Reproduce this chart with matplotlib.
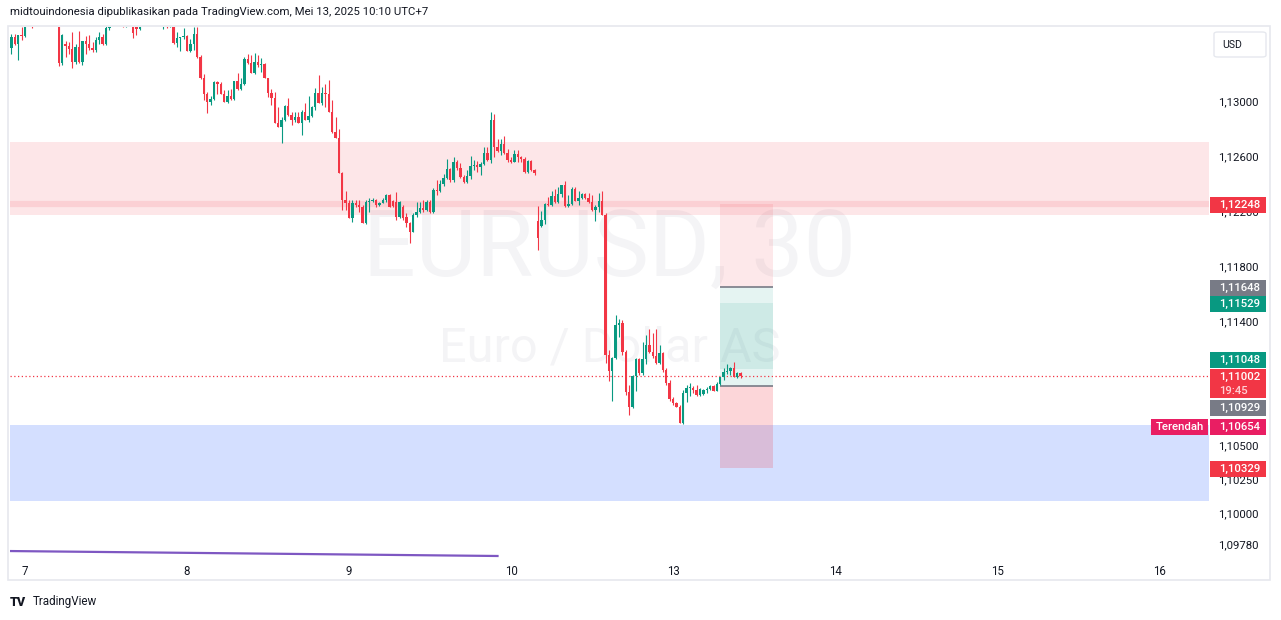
import matplotlib
matplotlib.use("Agg")
import matplotlib.pyplot as plt
from matplotlib.patches import Rectangle, FancyBboxPatch
import numpy as np

plt.rcParams['font.family'] = ['Roboto', 'DejaVu Sans']

W, H = 1281, 620

# EURUSD 30m candles (open, high, low, close), UTC+7
may06 = [
    (1.13385, 1.13487, 1.13342, 1.13465), (1.13465, 1.13487, 1.13407, 1.13414),
    (1.13414, 1.13480, 1.13298, 1.13480), (1.13480, 1.13538, 1.13443, 1.13473),
]
may07 = [
    (1.13473, 1.13589, 1.13465, 1.13553), (1.13553, 1.13630, 1.13545, 1.13574),
    (1.13574, 1.13620, 1.13531, 1.13553), (1.13553, 1.13640, 1.13545, 1.13610),
    (1.13610, 1.13680, 1.13590, 1.13650), (1.13650, 1.13720, 1.13620, 1.13690),
    (1.13690, 1.13740, 1.13630, 1.13660), (1.13660, 1.13700, 1.13580, 1.13620),
    (1.13620, 1.13660, 1.13550, 1.13580), (1.13580, 1.13630, 1.13545, 1.13600),
    (1.13600, 1.13640, 1.13254, 1.13276), (1.13276, 1.13485, 1.13262, 1.13480),
    (1.13414, 1.13436, 1.13320, 1.13400), (1.13400, 1.13429, 1.13342, 1.13378),
    (1.13378, 1.13502, 1.13240, 1.13284), (1.13284, 1.13414, 1.13269, 1.13393),
    (1.13393, 1.13509, 1.13276, 1.13284), (1.13284, 1.13436, 1.13262, 1.13436),
    (1.13436, 1.13473, 1.13342, 1.13414), (1.13414, 1.13480, 1.13371, 1.13385),
    (1.13385, 1.13429, 1.13356, 1.13371), (1.13371, 1.13465, 1.13356, 1.13443),
    (1.13443, 1.13502, 1.13414, 1.13465), (1.13465, 1.13487, 1.13407, 1.13414),
    (1.13414, 1.13574, 1.13407, 1.13531), (1.13531, 1.13620, 1.13516, 1.13580),
    (1.13580, 1.13660, 1.13560, 1.13640), (1.13640, 1.13690, 1.13600, 1.13630),
    (1.13630, 1.13670, 1.13560, 1.13580), (1.13580, 1.13620, 1.13535, 1.13570),
    (1.13570, 1.13630, 1.13535, 1.13610), (1.13610, 1.13660, 1.13570, 1.13620),
    (1.13620, 1.13650, 1.13458, 1.13494), (1.13545, 1.13600, 1.13480, 1.13524),
    (1.13524, 1.13620, 1.13520, 1.13600), (1.13600, 1.13680, 1.13580, 1.13660),
    (1.13660, 1.13720, 1.13620, 1.13640), (1.13640, 1.13700, 1.13600, 1.13680),
    (1.13680, 1.13740, 1.13640, 1.13710), (1.13710, 1.13760, 1.13650, 1.13670),
    (1.13670, 1.13700, 1.13560, 1.13560), (1.13560, 1.13650, 1.13524, 1.13620),
    (1.13620, 1.13660, 1.13531, 1.13580), (1.13580, 1.13630, 1.13540, 1.13600),
    (1.13600, 1.13640, 1.13414, 1.13422), (1.13422, 1.13502, 1.13393, 1.13458),
    (1.13458, 1.13465, 1.13364, 1.13462), (1.13462, 1.13531, 1.13451, 1.13473),
]
may08 = [
    (1.13473, 1.13480, 1.13364, 1.13364), (1.13364, 1.13451, 1.13356, 1.13414),
    (1.13414, 1.13538, 1.13371, 1.13487), (1.13487, 1.13538, 1.13313, 1.13320),
    (1.13320, 1.13334, 1.13160, 1.13167), (1.13167, 1.13196, 1.13007, 1.13054),
    (1.13054, 1.13065, 1.12915, 1.12993), (1.12993, 1.13036, 1.12971, 1.13017),
    (1.13017, 1.13145, 1.13010, 1.13135), (1.13135, 1.13142, 1.13051, 1.13127),
    (1.13127, 1.13138, 1.13051, 1.13054), (1.13054, 1.13080, 1.12990, 1.12993),
    (1.12993, 1.13078, 1.12985, 1.13040), (1.13040, 1.13090, 1.13010, 1.13017),
    (1.13017, 1.13145, 1.13010, 1.13145), (1.13145, 1.13204, 1.13078, 1.13090),
    (1.13090, 1.13167, 1.13078, 1.13127), (1.13127, 1.13320, 1.13114, 1.13309),
    (1.13309, 1.13344, 1.13269, 1.13278), (1.13278, 1.13334, 1.13206, 1.13206),
    (1.13206, 1.13351, 1.13200, 1.13284), (1.13284, 1.13331, 1.13247, 1.13262),
    (1.13262, 1.13313, 1.13214, 1.13269), (1.13269, 1.13276, 1.13165, 1.13165),
    (1.13165, 1.13167, 1.13031, 1.13056), (1.13056, 1.13085, 1.12971, 1.13024),
    (1.13024, 1.13068, 1.12842, 1.12842), (1.12842, 1.12959, 1.12809, 1.12813),
    (1.12813, 1.12886, 1.12697, 1.12862), (1.12862, 1.12971, 1.12855, 1.12964),
    (1.12964, 1.13020, 1.12891, 1.12898), (1.12898, 1.12922, 1.12825, 1.12862),
    (1.12862, 1.12922, 1.12849, 1.12882), (1.12882, 1.12922, 1.12838, 1.12838),
    (1.12838, 1.12935, 1.12753, 1.12922), (1.12922, 1.12983, 1.12862, 1.12862),
    (1.12862, 1.13036, 1.12849, 1.12891), (1.12891, 1.12964, 1.12884, 1.12954),
    (1.12954, 1.13092, 1.12935, 1.13060), (1.13060, 1.13189, 1.12983, 1.12983),
    (1.12983, 1.13104, 1.12971, 1.13060), (1.13060, 1.13124, 1.12959, 1.13051),
    (1.13051, 1.13153, 1.12922, 1.12922), (1.12922, 1.13007, 1.12765, 1.12777),
    (1.12777, 1.12886, 1.12729, 1.12731), (1.12731, 1.12794, 1.12474, 1.12474),
    (1.12474, 1.12487, 1.12207, 1.12280), (1.12280, 1.12345, 1.12207, 1.12258),
]
may09 = [
    (1.12258, 1.12280, 1.12149, 1.12151), (1.12151, 1.12280, 1.12122, 1.12258),
    (1.12258, 1.12280, 1.12232, 1.12244), (1.12244, 1.12280, 1.12196, 1.12232),
    (1.12232, 1.12244, 1.12115, 1.12115), (1.12115, 1.12280, 1.12108, 1.12266),
    (1.12266, 1.12293, 1.12196, 1.12276), (1.12276, 1.12295, 1.12262, 1.12282),
    (1.12282, 1.12287, 1.12232, 1.12242), (1.12242, 1.12262, 1.12236, 1.12260),
    (1.12260, 1.12295, 1.12255, 1.12280), (1.12280, 1.12324, 1.12265, 1.12316),
    (1.12316, 1.12324, 1.12227, 1.12232), (1.12270, 1.12280, 1.12227, 1.12238),
    (1.12265, 1.12338, 1.12135, 1.12160), (1.12160, 1.12273, 1.12149, 1.12265),
    (1.12229, 1.12244, 1.12135, 1.12149), (1.12160, 1.12185, 1.12087, 1.12111),
    (1.12111, 1.12122, 1.11965, 1.12049), (1.12049, 1.12185, 1.12049, 1.12171),
    (1.12171, 1.12268, 1.12160, 1.12195), (1.12195, 1.12268, 1.12185, 1.12220),
    (1.12220, 1.12280, 1.12195, 1.12207), (1.12207, 1.12280, 1.12200, 1.12268),
    (1.12268, 1.12280, 1.12188, 1.12195), (1.12195, 1.12367, 1.12185, 1.12353),
    (1.12353, 1.12425, 1.12316, 1.12345), (1.12345, 1.12425, 1.12340, 1.12396),
    (1.12396, 1.12469, 1.12382, 1.12440), (1.12440, 1.12578, 1.12433, 1.12505),
    (1.12505, 1.12513, 1.12413, 1.12425), (1.12425, 1.12590, 1.12413, 1.12560),
    (1.12560, 1.12571, 1.12498, 1.12511), (1.12511, 1.12547, 1.12440, 1.12447),
    (1.12447, 1.12462, 1.12406, 1.12413), (1.12413, 1.12498, 1.12406, 1.12455),
    (1.12455, 1.12600, 1.12433, 1.12527), (1.12527, 1.12571, 1.12498, 1.12535),
    (1.12535, 1.12564, 1.12486, 1.12522), (1.12522, 1.12560, 1.12462, 1.12542),
    (1.12542, 1.12667, 1.12533, 1.12624), (1.12624, 1.12667, 1.12566, 1.12571),
    (1.12571, 1.12922, 1.12551, 1.12862), (1.12862, 1.12905, 1.12595, 1.12667),
    (1.12667, 1.12722, 1.12631, 1.12638), (1.12638, 1.12722, 1.12607, 1.12687),
    (1.12687, 1.12745, 1.12615, 1.12620), (1.12620, 1.12649, 1.12559, 1.12571),
]
may10 = [
    (1.12571, 1.12595, 1.12547, 1.12559), (1.12559, 1.12644, 1.12559, 1.12615),
    (1.12615, 1.12644, 1.12559, 1.12591), (1.12591, 1.12600, 1.12556, 1.12576),
    (1.12576, 1.12595, 1.12480, 1.12487), (1.12487, 1.12571, 1.12480, 1.12564),
    (1.12564, 1.12571, 1.12493, 1.12498), (1.12498, 1.12505, 1.12462, 1.12474),
]
may12 = [
    (1.12127, 1.12233, 1.11916, 1.12004), (1.12091, 1.12200, 1.12084, 1.12135),
    (1.12135, 1.12256, 1.12105, 1.12251), (1.12251, 1.12302, 1.12240, 1.12246),
    (1.12246, 1.12345, 1.12240, 1.12309), (1.12309, 1.12363, 1.12256, 1.12262),
    (1.12262, 1.12378, 1.12256, 1.12324), (1.12324, 1.12389, 1.12304, 1.12389),
    (1.12389, 1.12418, 1.12227, 1.12236), (1.12236, 1.12316, 1.12227, 1.12254),
    (1.12254, 1.12375, 1.12244, 1.12358), (1.12358, 1.12375, 1.12273, 1.12275),
    (1.12275, 1.12342, 1.12244, 1.12293), (1.12293, 1.12333, 1.12285, 1.12324),
    (1.12324, 1.12331, 1.12285, 1.12293), (1.12293, 1.12328, 1.12256, 1.12262),
    (1.12262, 1.12316, 1.12202, 1.12207), (1.12207, 1.12244, 1.12127, 1.12227),
    (1.12227, 1.12331, 1.12195, 1.12275), (1.12275, 1.12345, 1.12171, 1.12171),
    (1.12171, 1.12185, 1.11095, 1.11153), (1.11153, 1.11189, 1.10967, 1.11039),
    (1.11039, 1.11138, 1.10815, 1.11131), (1.11131, 1.11444, 1.11124, 1.11371),
    (1.11371, 1.11413, 1.11284, 1.11389), (1.11389, 1.11407, 1.11153, 1.11171),
    (1.11171, 1.11189, 1.10862, 1.10886), (1.10886, 1.10935, 1.10716, 1.10776),
    (1.10776, 1.11007, 1.10765, 1.11000), (1.11000, 1.11131, 1.10893, 1.11121),
    (1.11121, 1.11131, 1.11007, 1.11020), (1.11020, 1.11250, 1.11007, 1.11121),
    (1.11121, 1.11298, 1.11087, 1.11225), (1.11225, 1.11342, 1.11165, 1.11177),
    (1.11177, 1.11313, 1.11129, 1.11145), (1.11145, 1.11342, 1.11087, 1.11095),
    (1.11095, 1.11225, 1.11087, 1.11169), (1.11169, 1.11177, 1.11031, 1.11044),
    (1.11044, 1.11058, 1.10935, 1.10947), (1.10947, 1.10971, 1.10818, 1.10831),
]
may13 = [
    (1.10831, 1.10847, 1.10789, 1.10802), (1.10802, 1.10813, 1.10773, 1.10777),
    (1.10777, 1.10789, 1.10660, 1.10660), (1.10660, 1.10898, 1.10654, 1.10878),
    (1.10878, 1.10935, 1.10813, 1.10911), (1.10911, 1.10949, 1.10851, 1.10914),
    (1.10914, 1.10927, 1.10880, 1.10898), (1.10898, 1.10935, 1.10851, 1.10862),
    (1.10862, 1.10913, 1.10855, 1.10905), (1.10869, 1.10905, 1.10862, 1.10898),
    (1.10898, 1.10920, 1.10876, 1.10905), (1.10905, 1.10935, 1.10898, 1.10927),
    (1.10927, 1.10935, 1.10889, 1.10893), (1.10893, 1.10953, 1.10891, 1.10942),
    (1.10942, 1.10995, 1.10935, 1.10990), (1.10990, 1.11058, 1.10971, 1.11031),
    (1.11031, 1.11087, 1.11015, 1.11035), (1.11035, 1.11069, 1.11007, 1.11058),
    (1.11058, 1.11102, 1.10993, 1.10995), (1.10995, 1.11031, 1.10985, 1.11022),
    (1.11022, 1.11029, 1.10985, 1.11002),
]
first_idx = -4

day_ticks = [0, 48, 96, 144, 192, 240, 288, 336]
day_labels = ["7", "8", "9", "10", "13", "14", "15", "16"]
price_ticks = [1.13, 1.126, 1.122, 1.118, 1.114, 1.105, 1.1025, 1.10, 1.0978]

supply_zone = (1.12171, 1.12702)
supply_line = 1.12248
demand_zone = (1.10091, 1.10644)

short_pos = {"entry": 1.11648, "stop": 1.12248, "target": 1.11048}
long_pos = {"entry": 1.10929, "stop": 1.10329, "target": 1.11529}
pos_span = (205.9, 221.6)

last_price = 1.11002
countdown = "19:45"
session_low = 1.10654

trend_idx = [-4.5, 140]
trend_price = [1.09727, 1.09691]

UP = "#089981"
DOWN = "#F23645"
GRAY = "#787B86"
TEXT = "#131722"

candles = np.array(may06 + may07 + may08 + may09 + may10 + may12 + may13)
idx = np.arange(len(candles)) + first_idx
o, h, l, c = candles.T
colors = np.where(c >= o, UP, DOWN)

fig = plt.figure(figsize=(W / 100, H / 100), dpi=100)
fig.patch.set_facecolor("white")
ax = fig.add_axes([10 / W, 1 - 558 / H, 1199 / W, 531 / H])
ax.set_xlim(-4.444, 350.8)
ax.set_ylim(1.096764, 1.135382)
for s in ax.spines.values():
    s.set_visible(False)

# watermark
ax.text(0.5, 0.578, "EURUSD, 30", transform=ax.transAxes, ha="center", va="center",
        fontsize=67, color="#F4F4F6", zorder=0)
ax.text(0.5, 0.395, "Euro / Dollar AS", transform=ax.transAxes, ha="center", va="center",
        fontsize=35, color="#F4F4F6", zorder=0)

# zones
ax.axhspan(*supply_zone, color=DOWN, alpha=0.12, lw=0, zorder=1)
ax.axhline(supply_line, color=DOWN, alpha=0.12, lw=4.5, zorder=1)
ax.axhspan(*demand_zone, color="#2962FF", alpha=0.2, lw=0, zorder=1)

# position tools
x0, x1 = pos_span
ax.fill_between([x0, x1], short_pos["entry"], short_pos["stop"], color=DOWN, alpha=0.11, lw=0, zorder=2)
ax.fill_between([x0, x1], short_pos["target"], short_pos["entry"], color=UP, alpha=0.1, lw=0, zorder=2)
ax.fill_between([x0, x1], long_pos["entry"], long_pos["target"], color=UP, alpha=0.1, lw=0, zorder=2)
ax.fill_between([x0, x1], long_pos["stop"], long_pos["entry"], color=DOWN, alpha=0.2, lw=0, zorder=2)
ax.hlines([short_pos["entry"], long_pos["entry"]], x0, x1, color=GRAY, lw=1.2, zorder=2)

# current price
ax.axhline(last_price, color=DOWN, lw=0.9, ls=(0, (1, 2)), zorder=2)

# candles
ax.vlines(idx, l, h, colors=colors, lw=0.8, zorder=3)
ax.bar(idx, np.maximum(np.abs(c - o), 0.00006), bottom=np.minimum(o, c), width=0.7,
       color=colors, lw=0, zorder=4)

ax.plot(trend_idx, trend_price, color="#7E57C2", lw=1.6, zorder=3)

ax.yaxis.tick_right()
ax.set_yticks(price_ticks)
ax.set_yticklabels([f"{p:.5f}".replace(".", ",") for p in price_ticks])
ax.tick_params(axis="y", length=0, pad=6.5, labelsize=8.2, labelcolor=TEXT)
ax.set_xticks(day_ticks)
ax.set_xticklabels(day_labels)
ax.tick_params(axis="x", length=0, pad=5, labelsize=8.3, labelcolor=TEXT)


def price_px(p):
    # price -> pixel row from top of figure
    return H - ax.transData.transform((0, p))[1]


def tag(price, color, dy=1, hgt=16, sub=None, left=None):
    yc = price_px(price) + dy
    top = yc - 8
    fig.patches.append(Rectangle((1210 / W, 1 - (top + hgt) / H), 56 / W, hgt / H,
                                 transform=fig.transFigure, fc=color, ec="none", zorder=5))
    fig.text(1219 / W, 1 - (top + 8) / H, f"{price:.5f}".replace(".", ","), color="white",
             fontsize=8.2, fontweight="medium", va="center", ha="left", zorder=6)
    if sub:
        fig.text(1219 / W, 1 - (top + 22) / H, sub, color="#FFD0D4", fontsize=8.2,
                 fontweight="medium", va="center", ha="left", zorder=6)
    if left:
        fig.patches.append(Rectangle((1151 / W, 1 - (top + hgt) / H), 57 / W, hgt / H,
                                     transform=fig.transFigure, fc=color, ec="none", zorder=5))
        fig.text(1179.5 / W, 1 - (top + 8) / H, left, color="white", fontsize=8.2,
                 fontweight="medium", va="center", ha="center", zorder=6)


tag(short_pos["stop"], DOWN)
tag(short_pos["entry"], GRAY)
tag(long_pos["target"], UP)
tag(short_pos["target"], UP, dy=-9)
tag(last_price, DOWN, dy=1.5, hgt=29, sub=countdown)
tag(long_pos["entry"], GRAY, dy=22)
tag(session_low, "#E91E63", dy=3, left="Terendah")
tag(long_pos["stop"], DOWN)

# frame and currency box
fig.patches.append(Rectangle((8 / W, 1 - 580 / H), 1262 / W, 554 / H, transform=fig.transFigure,
                             fill=False, ec="#E6E8EE", lw=1.2, zorder=0))
fig.patches.append(FancyBboxPatch((1214 / W, 1 - 57 / H), 52 / W, 25 / H,
                                  boxstyle="round,pad=0,rounding_size=0.003",
                                  transform=fig.transFigure, fc="white", ec="#E6E8EE", lw=1))
fig.text(1222 / W, 1 - 45 / H, "USD", fontsize=7.6, color=TEXT, va="center")

fig.text(10 / W, 1 - 12 / H, "midtouindonesia dipublikasikan pada TradingView.com, Mei 13, 2025 10:10 UTC+7",
         fontsize=8.2, color=TEXT, va="center")
fig.text(10 / W, 1 - 602 / H, "TV", fontsize=9, fontweight="black", color=TEXT, va="center")
fig.text(33 / W, 1 - 602 / H, "TradingView", fontsize=8.4, color=TEXT, va="center")

fig.savefig("out.png", dpi=100, facecolor="white")
